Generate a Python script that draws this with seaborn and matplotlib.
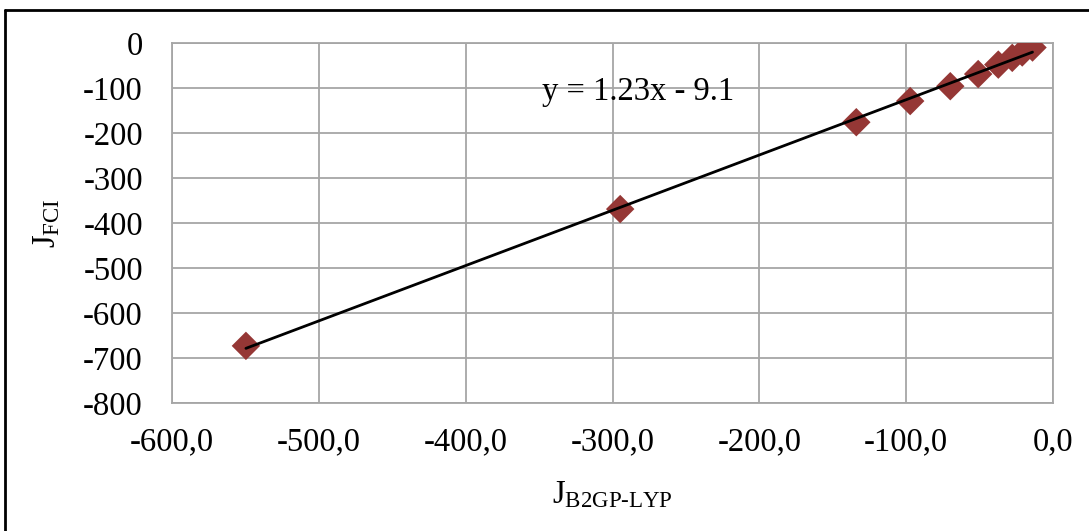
import numpy as np
import pandas as pd
import matplotlib
matplotlib.use('Agg')
import matplotlib.pyplot as plt
from matplotlib.lines import Line2D
import seaborn as sns

# values
j_b2gp = [-549.7, -294.8, -134.0, -97.3, -70.0, -51.0, -37.3, -27.8, -21.0, -14.0]
j_fci = [-673, -369, -176, -129, -96, -69, -48, -33, -21, -10]
x_ticks = [-600, -500, -400, -300, -200, -100, 0]
y_ticks = [0, -100, -200, -300, -400, -500, -600, -700, -800]
eq_text = 'y = 1.23x - 9.1'

df = pd.DataFrame({'x': j_b2gp, 'y': j_fci})

sns.set_theme(style='whitegrid')
plt.rcParams['font.family'] = ['Liberation Serif', 'DejaVu Serif']
plt.rcParams['mathtext.fontset'] = 'custom'
plt.rcParams['mathtext.rm'] = 'Liberation Serif'

fig = plt.figure(figsize=(10.89, 5.31), dpi=100)
ax = fig.add_axes([0.158, 0.241, 0.809, 0.678])

fs = 23.5
grid_col = '#a6a6a6'
sns.regplot(data=df, x='x', y='y', ax=ax, ci=None, marker='D', truncate=True,
            scatter_kws=dict(s=210, color='#953735', edgecolor='none', alpha=1, zorder=3),
            line_kws=dict(color='black', lw=2, zorder=4))

ax.set_xlim(-600, 0)
ax.set_ylim(-800, 0)
ax.set_xticks(x_ticks)
ax.set_xticklabels([f'{v:.1f}'.replace('.', ',') for v in x_ticks])
ax.set_yticks(y_ticks)
ax.set_yticklabels([str(v) for v in y_ticks])
ax.tick_params(axis='both', labelsize=fs, length=0, colors='black')
ax.tick_params(axis='y', pad=21)
ax.tick_params(axis='x', pad=17)
ax.grid(True, color=grid_col, lw=1.3)
for sp in ax.spines.values():
    sp.set_color(grid_col)
    sp.set_linewidth(1.3)

ax.set_xlabel(r'$\mathregular{J_{B2GP\text{-}LYP}}$', fontsize=fs, color='black', labelpad=16)
ax.set_ylabel(r'$\mathregular{J_{FCI}}$', fontsize=fs, color='black', labelpad=15)

ax.text(-348, -108, eq_text, fontsize=fs, ha='left', va='center', color='black', zorder=5)

# outer frame (only left and top edges visible in the reference)
fig.add_artist(Line2D([5 / 1089, 5 / 1089], [0, 1 - 10 / 531], color='black', lw=2, transform=fig.transFigure))
fig.add_artist(Line2D([5 / 1089, 1], [1 - 10 / 531, 1 - 10 / 531], color='black', lw=2, transform=fig.transFigure))

fig.savefig('out.png', dpi=100)
